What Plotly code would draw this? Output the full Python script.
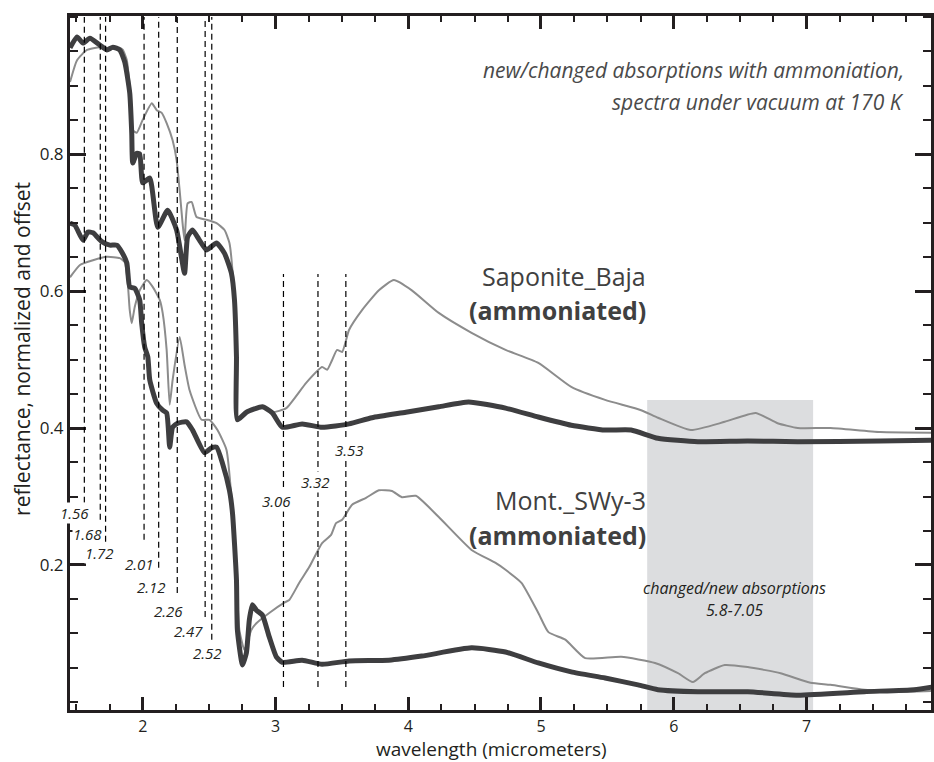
import plotly.graph_objects as go

# ---------------- spectra (wavelength in micrometers, reflectance) ----------------
sap_thick_wl = [1.452, 1.505, 1.55, 1.602, 1.677, 1.73, 1.775, 1.827, 1.865, 1.902, 1.917, 1.925,
                1.955, 1.977, 2.0, 2.053, 2.113, 2.188, 2.255, 2.315, 2.338, 2.375, 2.428, 2.48,
                2.556, 2.616, 2.668, 2.691, 2.706, 2.713, 2.781, 2.901, 2.976, 3.051, 3.201, 3.351,
                3.554, 3.727, 3.982, 4.23, 4.455, 4.733, 4.98, 5.228, 5.483, 5.679, 5.881, 6.182,
                6.557, 6.934, 7.556, 7.95]
sap_thick_r = [0.955, 0.971, 0.962, 0.969, 0.959, 0.952, 0.956, 0.952, 0.934, 0.889, 0.831, 0.787,
               0.801, 0.800, 0.758, 0.765, 0.693, 0.718, 0.689, 0.626, 0.679, 0.689, 0.674, 0.660,
               0.670, 0.655, 0.626, 0.587, 0.504, 0.412, 0.423, 0.431, 0.422, 0.401, 0.406, 0.401,
               0.406, 0.415, 0.423, 0.431, 0.438, 0.429, 0.416, 0.404, 0.397, 0.397, 0.385, 0.380,
               0.381, 0.380, 0.381, 0.382]

sap_thin_wl = [1.452, 1.505, 1.58, 1.677, 1.752, 1.827, 1.85, 1.88, 1.902, 1.925, 1.955, 2.0,
               2.068, 2.105, 2.143, 2.18, 2.225, 2.255, 2.278, 2.30, 2.315, 2.338, 2.368, 2.405,
               2.48, 2.556, 2.616, 2.653, 2.691, 2.706, 2.713, 2.781, 2.901, 2.976, 3.081, 3.231,
               3.351, 3.389, 3.426, 3.464, 3.502, 3.554, 3.652, 3.779, 3.892, 4.027, 4.23, 4.477,
               4.733, 4.98, 5.228, 5.483, 5.754, 5.881, 6.129, 6.384, 6.617, 6.782, 6.934, 7.18,
               7.556, 7.95]
sap_thin_r = [0.905, 0.937, 0.952, 0.956, 0.953, 0.955, 0.952, 0.937, 0.898, 0.835, 0.831, 0.850,
              0.874, 0.864, 0.860, 0.845, 0.820, 0.791, 0.747, 0.699, 0.674, 0.728, 0.730, 0.708,
              0.704, 0.699, 0.689, 0.670, 0.587, 0.504, 0.415, 0.423, 0.431, 0.423, 0.429, 0.466,
              0.489, 0.485, 0.499, 0.514, 0.511, 0.543, 0.572, 0.601, 0.616, 0.601, 0.568, 0.539,
              0.514, 0.495, 0.460, 0.441, 0.426, 0.415, 0.397, 0.409, 0.422, 0.407, 0.400, 0.400,
              0.394, 0.393]

mont_thick_wl = [1.452, 1.489, 1.55, 1.587, 1.625, 1.692, 1.752, 1.805, 1.842, 1.88, 1.902, 1.94,
                 1.977, 1.992, 2.015, 2.038, 2.053, 2.105, 2.15, 2.18, 2.203, 2.225, 2.263, 2.33,
                 2.375, 2.465, 2.518, 2.556, 2.60, 2.653, 2.676, 2.706, 2.713, 2.751, 2.781, 2.803,
                 2.826, 2.856, 2.901, 2.953, 3.006, 3.051, 3.201, 3.351, 3.554, 3.854, 4.102, 4.477,
                 4.733, 4.98, 5.228, 5.483, 5.731, 5.881, 6.182, 6.557, 6.934, 7.436, 7.811, 7.95]
mont_thick_r = [0.699, 0.696, 0.674, 0.686, 0.685, 0.672, 0.667, 0.667, 0.657, 0.641, 0.606, 0.604,
                0.587, 0.553, 0.518, 0.504, 0.470, 0.436, 0.426, 0.422, 0.372, 0.401, 0.407, 0.409,
                0.397, 0.364, 0.371, 0.372, 0.349, 0.309, 0.276, 0.178, 0.105, 0.054, 0.072, 0.120,
                0.142, 0.134, 0.127, 0.095, 0.066, 0.058, 0.061, 0.055, 0.060, 0.061, 0.067, 0.079,
                0.073, 0.057, 0.044, 0.035, 0.025, 0.018, 0.015, 0.015, 0.010, 0.015, 0.018, 0.022]

mont_thin_wl = [1.452, 1.527, 1.625, 1.73, 1.827, 1.865, 1.887, 1.902, 1.917, 1.94, 1.977, 2.03,
                2.075, 2.128, 2.15, 2.18, 2.203, 2.225, 2.278, 2.315, 2.353, 2.443, 2.503, 2.563,
                2.631, 2.668, 2.706, 2.728, 2.766, 2.818, 2.856, 2.953, 3.066, 3.104, 3.179, 3.254,
                3.351, 3.419, 3.456, 3.502, 3.577, 3.682, 3.779, 3.877, 3.952, 4.057, 4.23, 4.477,
                4.658, 4.733, 4.853, 4.98, 5.056, 5.183, 5.333, 5.604, 5.859, 6.032, 6.144, 6.234,
                6.384, 6.557, 6.805, 7.03, 7.18, 7.436, 7.683, 7.95]
mont_thin_r = [0.620, 0.638, 0.645, 0.650, 0.648, 0.642, 0.612, 0.572, 0.553, 0.577, 0.601, 0.616,
               0.606, 0.587, 0.568, 0.514, 0.434, 0.470, 0.533, 0.492, 0.455, 0.412, 0.412, 0.397,
               0.368, 0.299, 0.178, 0.105, 0.076, 0.105, 0.115, 0.130, 0.145, 0.149, 0.174, 0.197,
               0.232, 0.244, 0.261, 0.266, 0.288, 0.298, 0.309, 0.308, 0.299, 0.301, 0.270, 0.222,
               0.203, 0.193, 0.174, 0.130, 0.102, 0.091, 0.064, 0.066, 0.057, 0.042, 0.029, 0.042,
               0.054, 0.051, 0.042, 0.028, 0.025, 0.018, 0.015, 0.016]

# absorption band centres marked with dashed lines (micrometers)
band_labels = ["1.56", "1.68", "1.72", "2.01", "2.12", "2.26", "2.47", "2.52", "3.06", "3.32", "3.53"]
band_wl = [1.56, 1.68, 1.72, 2.01, 2.12, 2.26, 2.47, 2.52, 3.06, 3.32, 3.53]

# shaded band of changed/new absorptions
region_lo, region_hi = 5.8, 7.05

x_ticks = [2, 3, 4, 5, 6, 7]
y_ticks = [0.2, 0.4, 0.6, 0.8]

# ---------------- layout helpers ----------------
# vertical extent of each dashed marker (reflectance units)
line_top = [1.0] * 8 + [0.625] * 3
line_bottom = [0.291, 0.266, 0.234, 0.237, 0.196, 0.159, 0.124, 0.091, 0.022, 0.022, 0.022]
# label anchor positions (wavelength, reflectance)
label_x = [1.489, 1.583, 1.677, 1.977, 2.068, 2.195, 2.345, 2.488, 3.006, 3.300, 3.561]
label_y = [0.276, 0.245, 0.218, 0.201, 0.168, 0.133, 0.104, 0.072, 0.293, 0.321, 0.368]

DARK = "#3e3e40"
GREY = "#8c8c8c"
INK = "#231f20"
FONT = "Open Sans"

fig = go.Figure()

for wl, r in [(sap_thin_wl, sap_thin_r), (mont_thin_wl, mont_thin_r)]:
    fig.add_trace(go.Scatter(x=wl, y=r, mode="lines",
                             line=dict(color=GREY, width=2, shape="spline", smoothing=0.5),
                             hoverinfo="skip"))
for wl, r in [(sap_thick_wl, sap_thick_r), (mont_thick_wl, mont_thick_r)]:
    fig.add_trace(go.Scatter(x=wl, y=r, mode="lines",
                             line=dict(color=DARK, width=5, shape="spline", smoothing=0.5),
                             hoverinfo="skip"))

shapes = [dict(type="rect", xref="x", yref="y", x0=region_lo, x1=region_hi, y0=-0.02, y1=0.441,
               fillcolor="#dcdddf", line=dict(width=0), layer="below")]
for wl, y0, y1 in zip(band_wl, line_bottom, line_top):
    shapes.append(dict(type="line", xref="x", yref="y", x0=wl, x1=wl, y0=y0, y1=y1,
                       line=dict(color="black", width=1.2, dash="6px,4px"), layer="above"))

annotations = []
for txt, lx, ly in zip(band_labels, label_x, label_y):
    annotations.append(dict(x=lx, y=ly, xref="x", yref="y", text="<i>%s</i>" % txt,
                            showarrow=False, font=dict(family=FONT, size=15, color=INK),
                            bgcolor="white", borderpad=0))

NOTE = dict(family=FONT, size=21, color="#4a4a4a")
NAME = dict(family=FONT, size=25, color="#404040")
annotations += [
    dict(x=7.75, y=0.923, xref="x", yref="y", xanchor="right",
         text="<i>new/changed absorptions with ammoniation,</i>", showarrow=False, font=NOTE),
    dict(x=7.75, y=0.876, xref="x", yref="y", xanchor="right",
         text="<i>spectra under vacuum at 170 K</i>", showarrow=False, font=NOTE),
    dict(x=5.806, y=0.622, xref="x", yref="y", xanchor="right", text="Saponite_Baja",
         showarrow=False, font=NAME),
    dict(x=5.806, y=0.572, xref="x", yref="y", xanchor="right", text="<b>(ammoniated)</b>",
         showarrow=False, font=NAME),
    dict(x=5.806, y=0.295, xref="x", yref="y", xanchor="right", text="Mont._SWy-3",
         showarrow=False, font=NAME),
    dict(x=5.806, y=0.244, xref="x", yref="y", xanchor="right", text="<b>(ammoniated)</b>",
         showarrow=False, font=NAME),
    dict(x=6.459, y=0.166, xref="x", yref="y", text="<i>changed/new absorptions</i>",
         showarrow=False, font=dict(family=FONT, size=16, color=INK)),
    dict(x=6.459, y=0.134, xref="x", yref="y", text="<i>5.8-7.05</i>",
         showarrow=False, font=dict(family=FONT, size=16, color=INK)),
    dict(x=0.49, y=-0.0565, xref="paper", yref="paper", xanchor="center", yanchor="middle",
         text="wavelength (micrometers)", showarrow=False,
         font=dict(family=FONT, size=19, color=INK)),
    dict(x=-0.056, y=0.52, xref="paper", yref="paper", xanchor="center", yanchor="middle",
         textangle=-90, text="reflectance, normalized and offset", showarrow=False,
         font=dict(family=FONT, size=21, color=INK)),
]

fig.update_layout(
    width=934, height=762,
    margin=dict(l=70, r=0, t=16, b=52),
    paper_bgcolor="white", plot_bgcolor="white",
    showlegend=False,
    shapes=shapes, annotations=annotations,
    xaxis=dict(range=[1.452, 7.938], tickvals=x_ticks, ticktext=[str(v) for v in x_ticks],
               ticks="inside", ticklen=13, tickwidth=3, tickcolor=INK,
               minor=dict(dtick=0.25, tick0=0, ticks="inside", ticklen=6, tickwidth=2, tickcolor=INK),
               showline=True, linewidth=3, linecolor=INK, mirror="allticks",
               showgrid=False, zeroline=False,
               tickfont=dict(family=FONT, size=16, color=INK)),
    yaxis=dict(range=[-0.0117, 1.0015], tickvals=y_ticks, ticktext=[str(v) for v in y_ticks],
               ticks="inside", ticklen=16, tickwidth=3, tickcolor=INK,
               minor=dict(dtick=0.05, tick0=0, ticks="inside", ticklen=8, tickwidth=2, tickcolor=INK),
               showline=True, linewidth=3, linecolor=INK, mirror="ticks",
               showgrid=False, zeroline=False,
               tickfont=dict(family=FONT, size=17, color=INK)),
)

fig.write_html("out.html")
